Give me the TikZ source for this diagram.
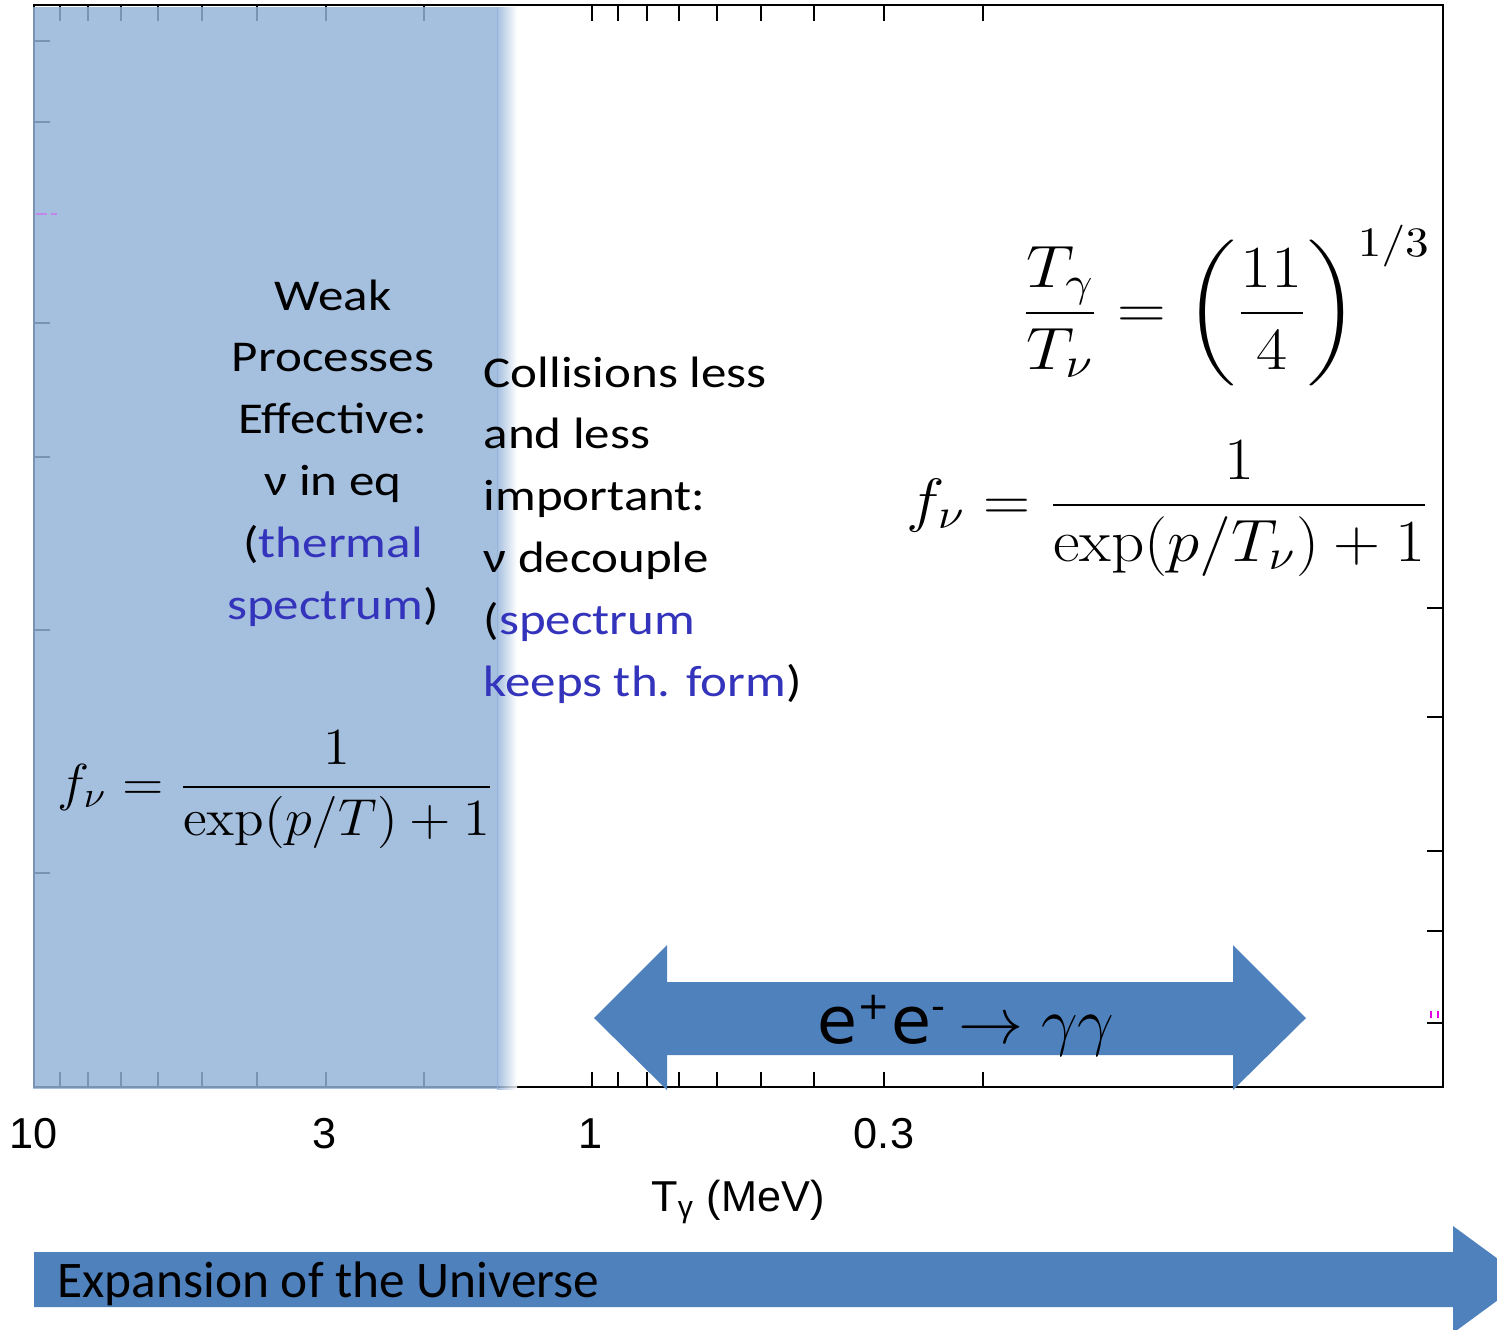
\RequirePackage{fix-cm}
\documentclass[tikz,border=0pt]{standalone}
\usepackage{amsmath}
\usepackage[no-math]{fontspec}
\setmainfont{Carlito}
\newfontfamily\widefont[FakeStretch=1.16]{Carlito}
\newfontfamily\axisfont{Liberation Sans}
\newfontfamily\eefont{DejaVu Sans}
\usepackage{tikz}
\definecolor{eqblue}{RGB}{147,178,216}
\definecolor{arrowblue}{RGB}{79,129,189}
\definecolor{textblue}{RGB}{51,51,187}
\definecolor{markpink}{RGB}{230,0,230}
\definecolor{markviolet}{RGB}{195,135,235}

\begin{document}
\begin{tikzpicture}[x=0.01cm, y=-0.01cm,
    lbl/.style={inner sep=0pt, font=\widefont\fontsize{12.5}{17.6}\selectfont},
    tk/.style={line width=0.55pt},
    num/.style={inner sep=0pt, anchor=base, font=\axisfont\fontsize{12.3}{14}\selectfont},
    eq/.style={inner sep=0pt, anchor=base west}]
\useasboundingbox (0,0) rectangle (1497,1329);

% frame and ticks
\draw[line width=0.8pt] (34,5) rectangle (1443,1087);
\foreach \t in {60,88,121,158,202,257,326,424,592,618,647,679,717,761,814,884,983}{
  \draw[tk] (\t,5) -- (\t,21);
  \draw[tk] (\t,1087) -- (\t,1072);
}
\foreach \t in {41,122,323,457,630,873} \draw[tk] (34,\t) -- (50,\t);
\foreach \t in {608,717,851,931,1023} \draw[tk] (1443,\t) -- (1427,\t);
\draw[markpink, line width=0.8pt] (1431,1011) -- (1431,1018) (1438,1011) -- (1438,1018);

% equilibrium region
\fill[eqblue, opacity=0.83] (33,7) rectangle (498,1089);
\shade[left color=eqblue, right color=white, opacity=0.83] (497,7) rectangle (517,1089);
\draw[markviolet, line width=0.7pt, dash pattern=on 3pt off 1.2pt] (36,214) -- (57,214);

% texts
\node[lbl, align=center] (weak) at (333,453) {Weak\\Processes\\Effective:\\ν in eq\\(\textcolor{textblue}{thermal}\\\textcolor{textblue}{spectrum})};
\node[lbl, align=left, anchor=west] (coll) at (483,530) {Collisions less\\and less\\important:\\ν decouple\\(\textcolor{textblue}{spectrum}\\\textcolor{textblue}{keeps th. form})};

% formulas
\node[eq, font=\fontsize{14.8}{17}\selectfont] (feq) at (57,800)
  {\scalebox{1.045}[1]{$f_\nu = \dfrac{1}{\exp(p/T)+1}$}};
\node[eq, font=\fontsize{17}{20}\selectfont] (ratio) at (1021,328)
  {\scalebox{1.13}[1]{$\dfrac{T_\gamma}{T_\nu} = \left(\dfrac{11}{4}\right)^{1/3}$}};
\node[eq, font=\fontsize{17}{20}\selectfont] (fdec) at (906,520)
  {\scalebox{1.09}[1]{$f_\nu = \dfrac{1}{\exp(p/T_\nu)+1}$}};

% axis labels
\node[num] (t10) at (34,1148) {10};
\node[num] (t3) at (325,1148) {3};
\node[num] (t1) at (591,1148) {1};
\node[num] (t03) at (884,1148) {0.3};
\node[num] (tlab) at (738,1211) {T\textsubscript{γ} (MeV)};

% pair annihilation
\fill[arrowblue] (594,1018) -- (667,945) -- (667,982) -- (1233,982) -- (1233,945) -- (1306,1018)
  -- (1233,1090) -- (1233,1055) -- (667,1055) -- (667,1090) -- cycle;
\node[inner sep=0pt, anchor=base, font=\fontsize{18.5}{20}\selectfont] (ann) at (966,1043)
  {\eefont e\textsuperscript{\fontsize{11}{12}\selectfont+}e\textsuperscript{\fontsize{11}{12}\selectfont-}\,$\rightarrow\gamma\gamma$};

% expansion arrow
\fill[arrowblue] (34,1252) -- (1453,1252) -- (1453,1226) -- (1526,1279.5) -- (1453,1333)
  -- (1453,1307) -- (34,1307) -- cycle;
\node[inner sep=0pt, anchor=base west, font=\fontsize{14.6}{16}\selectfont] (expn) at (57,1297) {Expansion of the Universe};
\end{tikzpicture}
\end{document}
